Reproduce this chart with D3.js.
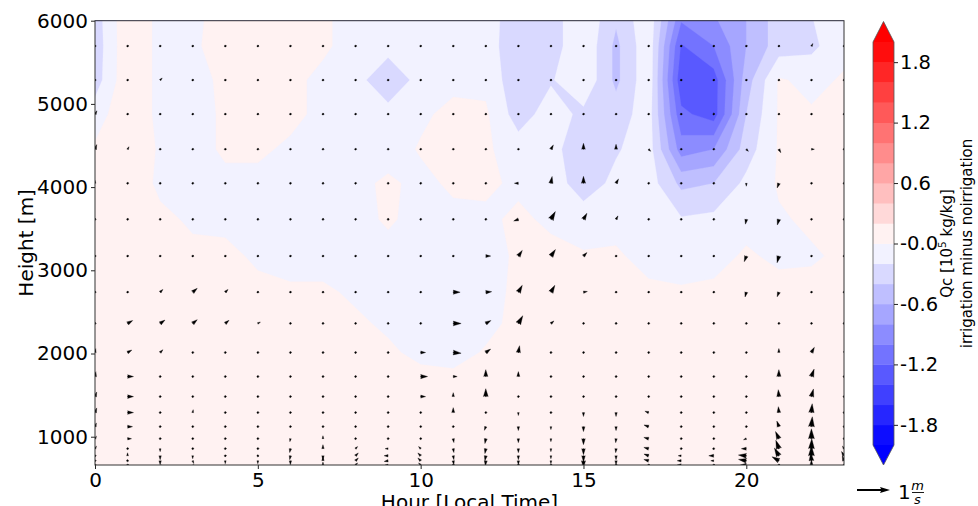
<!DOCTYPE html>
<html>
<head>
<meta charset="utf-8">
<script src="https://cdn.jsdelivr.net/npm/d3@7"></script>
<style>
  body { margin: 0; background: #fff; }
  svg { display: block; }
  text { font-family: "DejaVu Sans", sans-serif; fill: #000; }
</style>
</head>
<body>
<svg id="chart" width="978" height="506"></svg>
<script>
// grid: local hour x model height
const hours = [0,1,2,3,4,5,6,7,8,9,10,11,12,13,14,15,16,17,18,19,20,21,22,23]
const heights = [660,711,771,856,976,1121,1290,1482,1723,2012,2361,2737,3171,3613,4046,4455,4877,5286,5695,6110]

// Qc difference [1e-5 kg/kg], one row per height (bottom to top), one value per hour
const qc = [
  [0.06,0.07,0.07,0.06,0.05,0.06,0.07,0.06,0.05,0.06,0.07,0.08,0.08,0.07,0.06,0.06,0.07,0.07,0.06,0.06,0.05,0.06,0.07,0.06],
  [0.06,0.07,0.06,0.06,0.05,0.06,0.06,0.06,0.05,0.06,0.06,0.07,0.07,0.07,0.06,0.06,0.07,0.06,0.06,0.06,0.05,0.06,0.07,0.06],
  [0.06,0.06,0.06,0.06,0.05,0.05,0.06,0.06,0.05,0.06,0.06,0.06,0.07,0.06,0.06,0.06,0.06,0.06,0.06,0.06,0.05,0.06,0.06,0.06],
  [0.06,0.06,0.06,0.05,0.05,0.05,0.06,0.05,0.05,0.05,0.05,0.06,0.06,0.06,0.06,0.06,0.06,0.06,0.06,0.05,0.05,0.06,0.06,0.06],
  [0.06,0.06,0.06,0.05,0.05,0.05,0.05,0.05,0.05,0.05,0.05,0.05,0.06,0.06,0.06,0.06,0.06,0.06,0.06,0.05,0.05,0.06,0.06,0.06],
  [0.06,0.06,0.06,0.05,0.05,0.05,0.05,0.05,0.05,0.05,0.05,0.05,0.05,0.06,0.06,0.06,0.06,0.06,0.06,0.05,0.05,0.06,0.06,0.06],
  [0.06,0.06,0.05,0.05,0.05,0.05,0.05,0.05,0.05,0.05,0.04,0.04,0.05,0.06,0.06,0.06,0.06,0.06,0.05,0.05,0.05,0.06,0.06,0.06],
  [0.06,0.06,0.05,0.05,0.05,0.05,0.05,0.05,0.05,0.04,0.04,0.04,0.05,0.05,0.06,0.06,0.06,0.06,0.05,0.05,0.05,0.05,0.06,0.06],
  [0.06,0.06,0.05,0.05,0.05,0.05,0.05,0.05,0.05,0.04,0.03,0.02,0.04,0.05,0.06,0.06,0.06,0.06,0.05,0.05,0.05,0.05,0.06,0.06],
  [0.06,0.06,0.05,0.05,0.05,0.05,0.05,0.05,0.04,0.02,-0.03,-0.04,0.01,0.05,0.06,0.06,0.06,0.06,0.05,0.05,0.05,0.05,0.06,0.06],
  [0.06,0.06,0.05,0.05,0.05,0.04,0.04,0.03,0.02,-0.02,-0.05,-0.05,-0.03,0.03,0.05,0.06,0.06,0.05,0.05,0.05,0.05,0.05,0.05,0.06],
  [0.05,0.05,0.05,0.05,0.05,0.03,0.02,0.02,-0.02,-0.05,-0.05,-0.05,-0.05,0.03,0.05,0.05,0.05,0.03,0.02,0.03,0.05,0.05,0.05,0.05],
  [0.05,0.06,0.05,0.03,0.03,-0.02,-0.05,-0.05,-0.05,-0.05,-0.05,-0.05,-0.05,0.02,0.03,0.02,0.02,-0.05,-0.08,-0.05,0.02,-0.03,-0.02,0.03],
  [0.05,0.08,0.03,-0.02,-0.03,-0.05,-0.05,-0.05,-0.05,0.02,-0.05,-0.03,-0.02,0.02,-0.02,-0.1,-0.05,-0.08,-0.18,-0.15,-0.05,-0.02,0.03,0.03],
  [0.03,0.1,-0.03,-0.05,-0.03,-0.03,-0.05,-0.05,-0.03,0.02,-0.03,0.02,0.02,-0.02,-0.1,-0.3,-0.15,-0.1,-0.45,-0.4,-0.15,0.02,0.03,0.03],
  [0.03,0.12,-0.02,-0.05,0.02,0.02,-0.02,-0.05,-0.05,-0.05,0.01,0.03,0.03,-0.1,-0.15,-0.3,-0.22,-0.1,-0.9,-0.8,-0.3,0.02,0.03,0.03],
  [-0.1,0.15,-0.05,-0.05,0.02,0.03,0.03,-0.03,-0.05,-0.15,-0.02,0.03,0.03,-0.3,-0.1,-0.25,-0.3,-0.1,-1.15,-1.3,-0.4,0.02,0.02,0.02],
  [-0.3,0.15,-0.05,-0.05,0.03,0.05,0.03,-0.03,-0.15,-0.3,-0.15,-0.03,-0.05,-0.35,-0.22,-0.03,-0.45,-0.05,-1.35,-1.3,-0.5,0.02,-0.05,0.02],
  [-0.32,0.15,-0.05,-0.03,0.08,0.05,0.05,0.02,-0.05,-0.15,-0.05,-0.05,-0.1,-0.35,-0.3,-0.03,-0.45,-0.05,-1.22,-1.0,-0.6,-0.3,-0.25,-0.05],
  [-0.3,0.15,-0.05,-0.03,0.05,0.05,0.04,0.02,-0.05,-0.12,-0.05,-0.05,-0.12,-0.3,-0.3,-0.03,-0.35,-0.05,-0.9,-0.8,-0.6,-0.3,-0.2,-0.05]
]

// wind difference: speed [m/s] and direction [deg, 0 = to the right, 90 = up]
const windSpeed = [
  [0.03,0.03,0.12,0.12,0.09,0.09,0.09,0.09,0.09,0.09,0.09,0.03,0.12,0.03,0.03,0.24,0.03,0.03,0.12,0.03,0.18,0.03,0.15,0.03],
  [0.03,0.06,0.12,0.09,0.09,0.09,0.12,0.12,0.12,0.12,0.12,0.12,0.15,0.12,0.09,0.21,0.12,0.15,0.12,0.09,0.24,0.24,0.24,0.15],
  [0.03,0.09,0.12,0.09,0.03,0.06,0.12,0.12,0.12,0.12,0.12,0.12,0.15,0.12,0.09,0.18,0.12,0.15,0.09,0.15,0.24,0.27,0.3,0.15],
  [0.09,0.06,0.09,0.03,0.03,0.03,0.12,0.12,0.09,0.09,0.09,0.12,0.15,0.12,0.09,0.18,0.12,0.15,0.03,0.06,0.15,0.27,0.3,0.09],
  [0.09,0.12,0.03,0.03,0.03,0.03,0.09,0.09,0.03,0.03,0.06,0.12,0.15,0.12,0.09,0.18,0.12,0.15,0.03,0.03,0.09,0.24,0.3,0.03],
  [0.12,0.15,0.03,0.03,0.03,0.03,0.03,0.03,0.03,0.03,0.03,0.03,0.12,0.12,0.09,0.15,0.12,0.15,0.03,0.03,0.03,0.18,0.3,0.03],
  [0.15,0.18,0.03,0.09,0.03,0.03,0.03,0.03,0.03,0.03,0.03,0.15,0.03,0.09,0.03,0.12,0.12,0.12,0.03,0.03,0.03,0.18,0.27,0.03],
  [0.15,0.18,0.03,0.03,0.03,0.03,0.03,0.03,0.03,0.03,0.15,0.12,0.24,0.03,0.03,0.03,0.03,0.03,0.03,0.03,0.03,0.21,0.24,0.03],
  [0.15,0.18,0.03,0.03,0.03,0.03,0.03,0.03,0.03,0.03,0.21,0.12,0.21,0.15,0.03,0.03,0.03,0.03,0.03,0.03,0.03,0.21,0.24,0.03],
  [0.12,0.15,0.12,0.03,0.03,0.03,0.03,0.03,0.03,0.03,0.15,0.24,0.18,0.21,0.03,0.03,0.03,0.03,0.03,0.03,0.03,0.12,0.18,0.09],
  [0.03,0.18,0.18,0.18,0.15,0.09,0.03,0.03,0.03,0.03,0.03,0.24,0.18,0.27,0.12,0.03,0.03,0.03,0.03,0.03,0.03,0.03,0.03,0.03],
  [0.03,0.03,0.12,0.18,0.12,0.03,0.03,0.03,0.03,0.03,0.03,0.21,0.18,0.24,0.24,0.12,0.03,0.03,0.03,0.03,0.15,0.15,0.03,0.03],
  [0.03,0.03,0.03,0.03,0.03,0.03,0.03,0.03,0.03,0.03,0.03,0.03,0.15,0.21,0.24,0.15,0.03,0.03,0.03,0.03,0.18,0.21,0.03,0.03],
  [0.03,0.03,0.03,0.03,0.03,0.03,0.03,0.03,0.03,0.03,0.03,0.03,0.03,0.15,0.27,0.21,0.12,0.03,0.03,0.03,0.15,0.18,0.03,0.03],
  [0.09,0.03,0.03,0.03,0.03,0.03,0.03,0.03,0.03,0.03,0.03,0.03,0.03,0.12,0.21,0.21,0.15,0.03,0.03,0.03,0.09,0.15,0.03,0.03],
  [0.15,0.09,0.03,0.03,0.03,0.03,0.03,0.03,0.03,0.03,0.03,0.03,0.03,0.03,0.15,0.18,0.15,0.09,0.03,0.03,0.09,0.12,0.09,0.03],
  [0.12,0.03,0.03,0.03,0.03,0.03,0.03,0.03,0.03,0.03,0.03,0.03,0.03,0.03,0.03,0.03,0.03,0.03,0.03,0.06,0.03,0.03,0.03,0.03],
  [0.03,0.03,0.09,0.03,0.03,0.03,0.03,0.03,0.03,0.03,0.03,0.03,0.03,0.03,0.03,0.03,0.03,0.03,0.03,0.03,0.03,0.03,0.03,0.03],
  [0.03,0.03,0.03,0.03,0.03,0.03,0.03,0.03,0.03,0.03,0.03,0.03,0.03,0.03,0.03,0.03,0.03,0.03,0.03,0.03,0.03,0.03,0.09,0.03],
  [0.03,0.03,0.03,0.03,0.03,0.03,0.03,0.03,0.03,0.03,0.03,0.03,0.03,0.03,0.03,0.03,0.03,0.03,0.03,0.03,0.03,0.03,0.03,0.03]
]
const windDir = [
  [0,0,280,300,270,270,270,90,45,180,135,0,270,0,0,270,0,0,180,0,180,0,90,0],
  [0,90,270,290,270,270,270,90,45,190,135,280,265,270,270,270,270,165,180,180,170,150,95,110],
  [0,90,270,270,0,270,260,270,45,180,135,280,260,270,270,270,270,160,180,180,175,120,90,120],
  [60,0,270,0,0,0,260,90,45,180,135,280,260,270,270,270,265,165,0,180,180,110,88,120],
  [60,0,0,0,0,0,260,90,0,0,0,280,260,270,270,270,265,165,0,0,200,115,90,0],
  [70,0,0,0,0,0,0,0,0,0,0,0,250,270,270,270,270,160,0,0,0,110,85,0],
  [70,0,0,80,0,0,0,0,0,0,0,90,0,270,0,270,270,160,0,0,0,95,85,0],
  [70,0,0,0,0,0,0,0,0,0,0,90,90,0,0,0,0,0,0,0,0,95,75,0],
  [80,0,0,0,0,0,0,0,0,0,0,0,90,90,0,0,0,0,0,0,0,90,70,0],
  [80,30,45,0,0,0,0,0,0,0,0,355,35,80,0,0,0,0,0,0,0,90,60,60],
  [0,30,35,40,40,30,0,0,0,0,0,0,30,60,40,0,0,0,0,0,0,0,0,0],
  [0,0,45,40,45,0,0,0,0,0,0,0,5,60,60,10,0,0,0,0,255,250,0,0],
  [0,0,0,0,0,0,0,0,0,0,0,0,0,55,55,45,0,0,0,0,250,255,0,0],
  [0,0,0,0,0,0,0,0,0,0,0,0,0,200,60,60,60,0,0,0,260,255,0,0],
  [90,0,0,0,0,0,0,0,0,0,0,0,0,180,80,90,60,0,0,0,270,250,0,0],
  [70,60,0,0,0,0,0,0,0,0,0,0,0,0,60,90,90,315,0,0,315,300,0,0],
  [60,0,0,0,0,0,0,0,0,0,0,0,0,0,0,0,0,0,0,45,0,0,0,0],
  [0,0,45,0,0,0,0,0,0,0,0,0,0,0,0,0,0,0,0,0,0,0,0,0],
  [0,0,0,0,0,0,0,0,0,0,0,0,0,0,0,0,0,0,0,0,0,0,60,0],
  [0,0,0,0,0,0,0,0,0,0,0,0,0,0,0,0,0,0,0,0,0,0,0,0]
]

const levels = [-2,-1.8,-1.6,-1.4,-1.2,-1,-0.8,-0.6,-0.4,-0.2,0,0.2,0.4,0.6,0.8,1,1.2,1.4,1.6,1.8,2]
const xTicks = [0,5,10,15,20]
const yTicks = [1000,2000,3000,4000,5000,6000]
const cbTicks = [-1.8,-1.2,-0.6,0,0.6,1.2,1.8]
const cbTickLabels = ['-1.8','-1.2','-0.6','-0.0','0.6','1.2','1.8']
const keySpeed = 1

/* layout */
const plotL = 95, plotR = 844, plotT = 20.7, plotB = 465
const x = d3.scaleLinear().domain([0, 23]).range([plotL, plotR])
const y = d3.scaleLinear().domain([660, 6000]).range([plotB, plotT])
const arrowScale = d3.scaleLinear().domain([0, 1]).range([0, 33])  // px per m/s
const shaftW = 2

// bwr colormap
const bwr = t => t < 0.5 ? d3.rgb(510 * t, 510 * t, 255) : d3.rgb(255, 510 - 510 * t, 510 - 510 * t)
const norm = d3.scaleLinear().domain([-2, 2]).range([0, 1])
const bandColor = i => i >= levels.length - 1 ? bwr(1) : bwr(norm((levels[i] + levels[i + 1]) / 2))

const svg = d3.select('#chart')
svg.append('clipPath').attr('id', 'plotclip')
  .append('rect')
  .attr('x', plotL).attr('y', plotT)
  .attr('width', plotR - plotL).attr('height', plotB - plotT)

/* filled contours */
const nx = hours.length, ny = heights.length
const grid = qc.flat()
const contours = d3.contours().size([nx, ny]).thresholds(levels)(grid)

const gridX = p => {
  const q = Math.max(0, Math.min(nx - 1, p - 0.5))
  const i = Math.min(Math.floor(q), nx - 2)
  return x(hours[i] + (q - i) * (hours[i + 1] - hours[i]))
}
const gridY = p => {
  const q = Math.max(0, Math.min(ny - 1, p - 0.5))
  const i = Math.min(Math.floor(q), ny - 2)
  return y(heights[i] + (q - i) * (heights[i + 1] - heights[i]))
}
const ringPath = ring => 'M' + ring.map(pt => gridX(pt[0]).toFixed(2) + ',' + gridY(pt[1]).toFixed(2)).join('L') + 'Z'

const fills = svg.append('g').attr('clip-path', 'url(#plotclip)')
fills.selectAll('path')
  .data(contours)
  .enter()
  .append('path')
  .attr('d', c => c.coordinates.map(poly => poly.map(ringPath).join('')).join(''))
  .attr('fill-rule', 'evenodd')
  .attr('fill', (c, i) => bandColor(i))
  .attr('stroke', (c, i) => bandColor(i))
  .attr('stroke-width', 0.3)

/* quiver, matplotlib-style arrow polygons */
function arrowShape(L) {
  const w = shaftW
  if (L < w) {
    return d3.range(8).map(k => [Math.cos(k * Math.PI / 3) * w * 0.5, Math.sin(k * Math.PI / 3) * w * 0.5])
  }
  const minsh = 5 * w
  let X, Y = [0.5, 0.5, 1.5, 0, -1.5, -0.5, -0.5, 0.5].map(v => v * w)
  if (L < minsh) {
    const s = L / minsh
    X = [0, 0.5, 0, 5, 0, 0.5, 0, 0].map(v => v * w * s)
    Y = Y.map(v => v * s)
  } else {
    X = [0, L - 4.5 * w, L - 5 * w, L, L - 5 * w, L - 4.5 * w, 0, 0]
  }
  return X.map((v, k) => [v, Y[k]])
}
function arrowPath(cx, cy, speed, dirDeg) {
  const L = arrowScale(speed)
  const a = dirDeg * Math.PI / 180
  const c = Math.cos(a), s = Math.sin(a)
  return 'M' + arrowShape(L).map(([px, py]) =>
    (cx + px * c - py * s).toFixed(2) + ',' + (cy - (px * s + py * c)).toFixed(2)).join('L') + 'Z'
}

const arrows = []
heights.forEach((h, j) => hours.forEach((hr, i) => {
  arrows.push({ hr: hr, h: h, speed: windSpeed[j][i], dir: windDir[j][i] })
}))
svg.append('g').attr('clip-path', 'url(#plotclip)')
  .selectAll('path')
  .data(arrows)
  .enter()
  .append('path')
  .attr('d', d => arrowPath(x(d.hr), y(d.h), d.speed, d.dir))
  .attr('fill', '#000')
  .attr('stroke', '#000')
  .attr('stroke-width', 0.35)

/* axes */
const xAxis = d3.axisBottom(x).tickValues(xTicks).tickSize(4).tickPadding(3.5).tickSizeOuter(0)
const yAxis = d3.axisLeft(y).tickValues(yTicks).tickFormat(d => String(d)).tickSize(4).tickPadding(3).tickSizeOuter(0)
const gx = svg.append('g').attr('transform', `translate(0,${plotB})`).call(xAxis)
const gy = svg.append('g').attr('transform', `translate(${plotL},0)`).call(yAxis)
for (const g of [gx, gy]) {
  g.select('.domain').remove()
  g.selectAll('.tick line').attr('stroke', '#222')
  g.selectAll('.tick text').attr('font-size', 20).attr('font-family', 'DejaVu Sans').attr('fill', '#000')
}
svg.append('rect')
  .attr('x', plotL).attr('y', plotT)
  .attr('width', plotR - plotL).attr('height', plotB - plotT)
  .attr('fill', 'none').attr('stroke', '#333').attr('stroke-width', 1)

svg.append('text')
  .attr('x', (plotL + plotR) / 2).attr('y', 508.5)
  .attr('text-anchor', 'middle').attr('font-size', 20)
  .text('Hour [Local Time]')
svg.append('text')
  .attr('transform', `translate(33,${(plotT + plotB) / 2}) rotate(-90)`)
  .attr('text-anchor', 'middle').attr('font-size', 20)
  .text('Height [m]')

/* colorbar */
const cbL = 873, cbR = 894, cbTop = 42, cbBot = 445
const cb = d3.scaleLinear().domain([-2, 2]).range([cbBot, cbTop])
const cbg = svg.append('g')
cbg.selectAll('rect')
  .data(levels.slice(0, -1))
  .enter()
  .append('rect')
  .attr('x', cbL).attr('width', cbR - cbL)
  .attr('y', (d, i) => cb(levels[i + 1]))
  .attr('height', (d, i) => cb(levels[i]) - cb(levels[i + 1]) + 0.4)
  .attr('fill', (d, i) => bandColor(i))
cbg.append('path')
  .attr('d', `M${cbL},${cbTop}L${(cbL + cbR) / 2},${cbTop - 20.5}L${cbR},${cbTop}Z`)
  .attr('fill', bwr(1))
cbg.append('path')
  .attr('d', `M${cbL},${cbBot}L${(cbL + cbR) / 2},${cbBot + 20}L${cbR},${cbBot}Z`)
  .attr('fill', bwr(0))
cbg.append('path')
  .attr('d', `M${cbL},${cbTop}L${(cbL + cbR) / 2},${cbTop - 20.5}L${cbR},${cbTop}L${cbR},${cbBot}L${(cbL + cbR) / 2},${cbBot + 20}L${cbL},${cbBot}Z`)
  .attr('fill', 'none').attr('stroke', '#555').attr('stroke-width', 0.8)

const cbAxis = d3.axisRight(cb).tickValues(cbTicks).tickSize(4).tickPadding(2)
  .tickFormat((d, i) => cbTickLabels[i]).tickSizeOuter(0)
const gcb = svg.append('g').attr('transform', `translate(${cbR},0)`).call(cbAxis)
gcb.select('.domain').remove()
gcb.selectAll('.tick line').attr('stroke', '#222')
gcb.selectAll('.tick text').attr('font-size', 19.5).attr('font-family', 'DejaVu Sans').attr('fill', '#000')

const cbLabel = svg.append('text')
  .attr('transform', `translate(952,${(cbTop + cbBot) / 2}) rotate(-90)`)
  .attr('text-anchor', 'middle').attr('font-size', 15)
cbLabel.append('tspan').text('Qc [10')
cbLabel.append('tspan').attr('dy', -6).attr('font-size', 10.5).text('5')
cbLabel.append('tspan').attr('dy', 6).text(' kg/kg]')
svg.append('text')
  .attr('transform', `translate(972,${(cbTop + cbBot) / 2}) rotate(-90)`)
  .attr('text-anchor', 'middle').attr('font-size', 15)
  .text('irrigation minus noirrigation')

/* quiver key */
svg.append('path')
  .attr('d', arrowPath(857, 490, keySpeed, 0))
  .attr('fill', '#000')
svg.append('text').attr('x', 898).attr('y', 499).attr('font-size', 20).text('1')
svg.append('text').attr('x', 917.5).attr('y', 489.5).attr('font-size', 13)
  .attr('font-style', 'italic').attr('text-anchor', 'middle').text('m')
svg.append('line').attr('x1', 912).attr('x2', 924).attr('y1', 492.5).attr('y2', 492.5)
  .attr('stroke', '#000').attr('stroke-width', 0.9)
svg.append('text').attr('x', 917.5).attr('y', 504).attr('font-size', 13)
  .attr('font-style', 'italic').attr('text-anchor', 'middle').text('s')
</script>
</body>
</html>
